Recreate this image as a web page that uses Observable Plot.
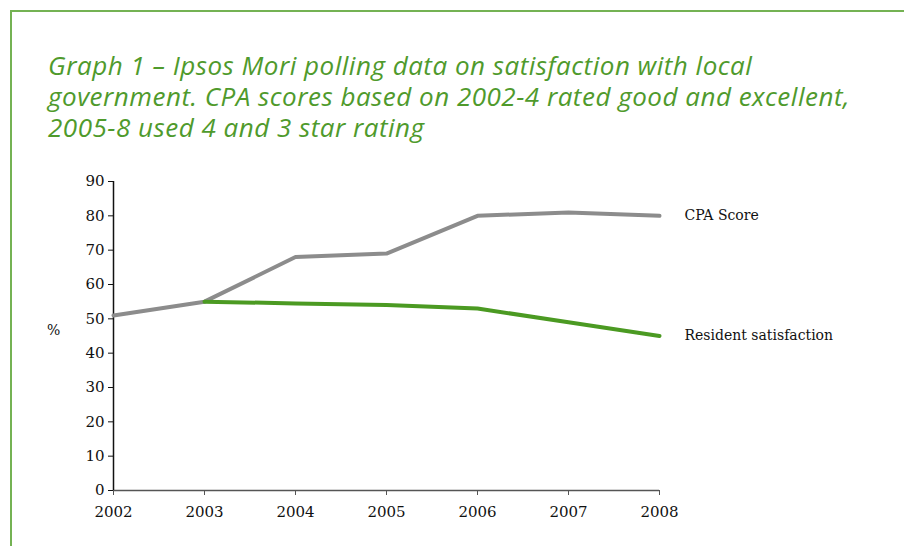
<!DOCTYPE html>
<html>
<head>
<meta charset="utf-8">
<script src="https://cdn.jsdelivr.net/npm/d3@7"></script>
<script src="https://cdn.jsdelivr.net/npm/@observablehq/plot@0.6"></script>
<style>
  html, body { margin: 0; padding: 0; background: #fff; }
  #frame { position: relative; width: 904px; height: 546px; overflow: hidden; background: #fff; }
  #bt { position: absolute; left: 10px; top: 10px; width: 894px; height: 2px; background: #74b253; }
  #bl { position: absolute; left: 10px; top: 10px; width: 2px; height: 536px; background: #74b253; }
  #title { position: absolute; left: 48px; top: 50px; font-family: "Open Sans", sans-serif; font-style: italic; font-weight: 400;
           font-size: 26px; letter-spacing: 0.5px; line-height: 31px; color: #4f9a2c; white-space: nowrap; }
  #pct { position: absolute; left: 47px; top: 322px; font-family: "DejaVu Serif", serif; font-size: 14px; color: #111; }
  #chart { position: absolute; left: 0; top: 160px; }
</style>
</head>
<body>
<div id="frame">
  <div id="bt"></div>
  <div id="bl"></div>
  <div id="title">Graph 1 – Ipsos Mori polling data on satisfaction with local<br>government. CPA scores based on 2002-4 rated good and excellent,<br>2005-8 used 4 and 3 star rating</div>
  <div id="pct">%</div>
  <div id="chart"></div>
</div>
<script>
const years = [2002, 2003, 2004, 2005, 2006, 2007, 2008];
const cpaScore = [51, 55, 68, 69, 80, 81, 80];
const residentYears = [2003, 2004, 2005, 2006, 2007, 2008];
const residentSatisfaction = [55, 54.5, 54, 53, 49, 45];
const yTicks = [0, 10, 20, 30, 40, 50, 60, 70, 80, 90];
const seriesNames = ["CPA Score", "Resident satisfaction"];

const cpa = years.map((y, i) => ({year: y, value: cpaScore[i], series: seriesNames[0]}));
const res = residentYears.map((y, i) => ({year: y, value: residentSatisfaction[i], series: seriesNames[1]}));
const ends = [cpa[cpa.length - 1], res[res.length - 1]];

const chart = Plot.plot({
  width: 904,
  height: 386,
  marginTop: 21,
  marginBottom: 56,
  marginLeft: 113,
  marginRight: 245,
  style: {fontFamily: "'DejaVu Serif', serif", fontSize: "15px", color: "#111", background: "transparent"},
  x: {domain: [2002, 2008], label: null},
  y: {domain: [0, 90], label: null},
  marks: [
    Plot.axisX({ticks: years, tickFormat: d => String(d), tickSize: 5, tickPadding: 11, stroke: "#555", fontSize: 15}),
    Plot.axisY({ticks: yTicks, tickSize: 5, tickPadding: 4, stroke: "#111", fontSize: 15}),
    Plot.ruleY([0], {stroke: "#555", strokeWidth: 1.5}),
    Plot.ruleX([2002], {y1: 0, y2: 90, stroke: "#111", strokeWidth: 1.5}),
    Plot.line(cpa, {x: "year", y: "value", stroke: "#8c8c8c", strokeWidth: 4, strokeLinecap: "round", strokeLinejoin: "round"}),
    Plot.line(res, {x: "year", y: "value", stroke: "#4b9a22", strokeWidth: 4, strokeLinecap: "round", strokeLinejoin: "round"}),
    Plot.text(ends, {x: "year", y: "value", text: "series", textAnchor: "start", dx: 25, fill: "#111", fontSize: 14})
  ]
});
document.getElementById("chart").appendChild(chart);
</script>
</body>
</html>
